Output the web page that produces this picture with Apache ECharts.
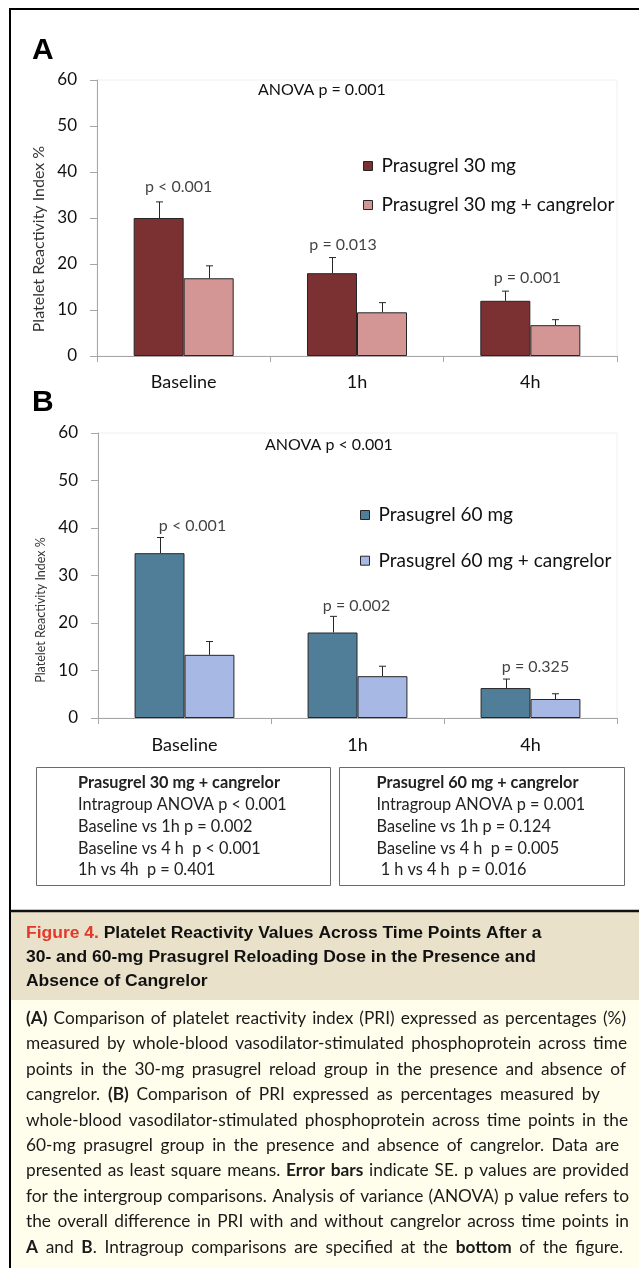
<!DOCTYPE html>
<html>
<head>
<meta charset="utf-8">
<script src="https://cdn.jsdelivr.net/npm/echarts@6/dist/echarts.min.js"></script>
<style>
html,body{margin:0;padding:0;background:#fff;}
#main{width:639px;height:1268px;}
</style>
</head>
<body>
<div id="main"></div>
<script>
// ---------------- DATA ----------------
const categories = ['Baseline', '1h', '4h'];
const seriesNamesA = ['Prasugrel 30 mg', 'Prasugrel 30 mg + cangrelor'];
const seriesNamesB = ['Prasugrel 60 mg', 'Prasugrel 60 mg + cangrelor'];
const prasugrel30 = [30.0, 18.0, 12.0];
const prasugrel30Err = [3.5, 3.4, 2.1];
const prasugrel30Cang = [16.9, 9.5, 6.7];
const prasugrel30CangErr = [2.7, 2.1, 1.2];
const prasugrel60 = [34.7, 18.0, 6.3];
const prasugrel60Err = [3.3, 3.4, 1.9];
const prasugrel60Cang = [13.3, 8.8, 4.0];
const prasugrel60CangErr = [2.8, 2.1, 1.1];
const pValuesA = ['p < 0.001', 'p = 0.013', 'p = 0.001'];
const pValuesB = ['p < 0.001', 'p = 0.002', 'p = 0.325'];
const anovaA = 'ANOVA p = 0.001';
const anovaB = 'ANOVA p < 0.001';
const yAxisName = 'Platelet Reactivity Index %';
const yMin = 0, yMax = 60, yInterval = 10;
const boxLeftLines = ['Prasugrel 30 mg + cangrelor', 'Intragroup ANOVA p < 0.001', 'Baseline vs 1h p = 0.002', 'Baseline vs 4 h  p < 0.001', '1h vs 4h  p = 0.401'];
const boxRightLines = ['Prasugrel 60 mg + cangrelor', 'Intragroup ANOVA p = 0.001', 'Baseline vs 1h p = 0.124', 'Baseline vs 4 h  p = 0.005', ' 1 h vs 4 h  p = 0.016'];
const captionTitleLines = ['{r|Figure 4.} Platelet Reactivity Values Across Time Points After a', '30- and 60-mg Prasugrel Reloading Dose in the Presence and', 'Absence of Cangrelor'];
const captionBodyLines = [
  '**(A)** Comparison of platelet reactivity index (PRI) expressed as percentages (%)',
  'measured by whole-blood vasodilator-stimulated phosphoprotein across time',
  'points in the 30-mg prasugrel reload group in the presence and absence of',
  'cangrelor. **(B)** Comparison of PRI expressed as percentages measured by',
  'whole-blood vasodilator-stimulated phosphoprotein across time points in the',
  '60-mg prasugrel group in the presence and absence of cangrelor. Data are',
  'presented as least square means. **Error bars** indicate SE. p values are provided',
  'for the intergroup comparisons. Analysis of variance (ANOVA) p value refers to',
  'the overall difference in PRI with and without cangrelor across time points in',
  '**A** and **B**. Intragroup comparisons are specified at the **bottom** of the figure.'
];

// ---------------- STYLE / LAYOUT ----------------
const FONT = 'Lato';
const colA1 = '#7b3032', colA2 = '#d49694', colB1 = '#507e99', colB2 = '#a7b8e4';
const BAR_GAP_CAT = 0.423;
const bodyLineEnds = [626, 627, 626, 600, 628, 619, 629, 629, 629, 623];
const titleLineEnds = [547, 536, 202];
const pOffA = [[-5, -15], [-14, -13], [-3, -13]];
const pOffB = [[8, -12], [-1, -11], [5, -12]];

const canvas = document.createElement('canvas');
const ctx = canvas.getContext('2d');
function measure(t, size, weight, family) {
  ctx.font = weight + ' ' + size + 'px ' + family;
  return ctx.measureText(t).width;
}

function errSeries(means, errs, side, xi) {
  return {
    type: 'custom', xAxisIndex: xi, yAxisIndex: xi, z: 5, silent: true,
    data: means.map((m, i) => [i, m, errs[i]]),
    encode: { x: 0, y: 1 },
    renderItem: function (params, api) {
      const x = api.value(0), m = api.value(1), e = api.value(2);
      const base = api.coord([x, m]);
      const top = api.coord([x, m + e]);
      const band = api.size([1, 0])[0];
      const bw = band * (1 - BAR_GAP_CAT) / 2;
      const cx = Math.round(base[0] + side * bw / 2) + 0.5;
      const st = { stroke: '#262626', lineWidth: 1 };
      return { type: 'group', children: [
        { type: 'line', shape: { x1: cx, y1: base[1], x2: cx, y2: top[1] }, style: st },
        { type: 'line', shape: { x1: cx - 3.5, y1: top[1], x2: cx + 3.5, y2: top[1] }, style: st }
      ]};
    }
  };
}
function pSeries(means, errs, labels, offs, xi) {
  return {
    type: 'scatter', xAxisIndex: xi, yAxisIndex: xi, symbolSize: 1, silent: true, z: 6,
    itemStyle: { color: 'transparent' },
    data: means.map((m, i) => ({ value: [i, m + errs[i]], label: { offset: offs[i] } })),
    label: { show: true, position: 'inside', formatter: p => labels[p.dataIndex], fontSize: 16, color: '#111', fontFamily: FONT }
  };
}
function barSeries(name, data, color, xi) {
  return {
    type: 'bar', name: name, xAxisIndex: xi, yAxisIndex: xi, data: data,
    barGap: '0%', barCategoryGap: (BAR_GAP_CAT * 100) + '%',
    itemStyle: { color: color, borderColor: '#262626', borderWidth: 1 }
  };
}
function xAxisCfg(gi, margin) {
  return {
    type: 'category', gridIndex: gi, data: categories,
    axisLine: { lineStyle: { color: '#a6a6a6', width: 1 } },
    axisTick: { show: true, length: 6, lineStyle: { color: '#a6a6a6' } },
    axisLabel: { fontSize: 18, color: '#111', margin: margin, fontFamily: FONT }
  };
}
function yAxisCfg(gi, nameSize, pad) {
  return {
    type: 'value', gridIndex: gi, min: yMin, max: yMax, interval: yInterval,
    axisLine: { show: true, lineStyle: { color: '#a6a6a6', width: 1 } },
    axisTick: { show: true, length: 7, lineStyle: { color: '#a6a6a6' } },
    splitLine: { show: false },
    axisLabel: { fontSize: 17, color: '#111', margin: 20, fontFamily: FONT },
    name: yAxisName, nameLocation: 'middle', nameGap: 40,
    nameTextStyle: { fontSize: nameSize, color: '#333', fontFamily: FONT, padding: pad }
  };
}
function legendCfg(names, left, top, gap) {
  return {
    data: names, orient: 'vertical', left: left, top: top, padding: 0,
    itemWidth: 9, itemHeight: 9, itemGap: gap, icon: 'rect', selectedMode: false,
    itemStyle: { borderColor: '#262626', borderWidth: 1 },
    textStyle: { fontSize: 19, lineHeight: 20, color: '#111', fontFamily: FONT, padding: [0, 0, 0, 4] }
  };
}

// ---------------- GRAPHICS (frame, boxes, caption) ----------------
const graphics = [];
graphics.push({ type: 'rect', shape: { x: 11, y: 912, width: 628, height: 88 }, style: { fill: '#e9e1c9' }, z: 0 });
graphics.push({ type: 'rect', shape: { x: 11, y: 1000, width: 628, height: 268 }, style: { fill: '#fffdec' }, z: 0 });
graphics.push({ type: 'line', shape: { x1: 10, y1: 9, x2: 639, y2: 9 }, style: { stroke: '#000', lineWidth: 2 }, z: 2 });
graphics.push({ type: 'line', shape: { x1: 10, y1: 8, x2: 10, y2: 1268 }, style: { stroke: '#000', lineWidth: 2 }, z: 2 });
graphics.push({ type: 'line', shape: { x1: 10, y1: 911, x2: 639, y2: 911 }, style: { stroke: '#111', lineWidth: 2.5 }, z: 2 });
graphics.push({ type: 'rect', shape: { x: 36.5, y: 767.5, width: 294, height: 118 }, style: { fill: 'none', stroke: '#6b6b6b', lineWidth: 1 }, z: 2 });
graphics.push({ type: 'rect', shape: { x: 339.5, y: 767.5, width: 285, height: 118 }, style: { fill: 'none', stroke: '#6b6b6b', lineWidth: 1 }, z: 2 });
function boxText(lines, x) {
  lines.forEach((t, i) => {
    graphics.push({ type: 'text', z: 3, x: x, y: 783 + i * 21.8, style: {
      text: t, fill: '#222', fontSize: 16.3, fontFamily: FONT, fontWeight: i === 0 ? 'bold' : 'normal',
      align: 'left', verticalAlign: 'middle' } });
  });
}
boxText(boxLeftLines, 78);
boxText(boxRightLines, 376.5);

// caption title (condensed bold)
const TSIZE = 16;
let natSum = 0, tgtSum = 0;
captionTitleLines.forEach((t, i) => {
  natSum += measure(t.replace('{r|', '').replace('}', ''), TSIZE, 'bold', 'Liberation Sans');
  tgtSum += titleLineEnds[i] - 26;
});
const tScale = tgtSum / natSum;
captionTitleLines.forEach((t, i) => {
  graphics.push({ type: 'text', z: 3, x: 26, y: 933.5 + i * 23.8, scaleX: tScale, style: {
    text: t, fill: '#111', fontSize: TSIZE, fontFamily: 'Liberation Sans', fontWeight: 'bold',
    align: 'left', verticalAlign: 'middle',
    rich: { r: { fill: '#e2392b', fontSize: TSIZE, fontFamily: 'Liberation Sans', fontWeight: 'bold' } } } });
});

// caption body, justified word by word
const BSIZE = 17.3;
captionBodyLines.forEach((line, li) => {
  const words = [];
  let bold = false, cur = [], seg = '';
  const pushSeg = () => { if (seg) { cur.push({ t: seg, b: bold }); seg = ''; } };
  for (let k = 0; k < line.length; k++) {
    if (line[k] === '*' && line[k + 1] === '*') { pushSeg(); bold = !bold; k++; continue; }
    if (line[k] === ' ') { pushSeg(); if (cur.length) words.push(cur); cur = []; continue; }
    seg += line[k];
  }
  pushSeg(); if (cur.length) words.push(cur);
  const ww = words.map(w => w.reduce((s, g) => s + measure(g.t, BSIZE, g.b ? 'bold' : 'normal', FONT), 0));
  const total = ww.reduce((a, b) => a + b, 0);
  const gap = Math.max(2.5, (bodyLineEnds[li] - 26 - total) / (words.length - 1));
  let x = 26;
  const y = 1018.5 + li * 25.4;
  words.forEach((w, wi) => {
    let sx = x;
    w.forEach(g => {
      graphics.push({ type: 'text', z: 3, x: sx, y: y, style: {
        text: g.t, fill: '#1a1a1a', fontSize: BSIZE, fontFamily: FONT, fontWeight: g.b ? 'bold' : 'normal',
        align: 'left', verticalAlign: 'middle' } });
      sx += measure(g.t, BSIZE, g.b ? 'bold' : 'normal', FONT);
    });
    x += ww[wi] + gap;
  });
});

// ---------------- CHART ----------------
const chart = echarts.init(document.getElementById('main'), null, { renderer: 'canvas' });
const option = {
  animation: false,
  backgroundColor: '#ffffff',
  textStyle: { fontFamily: FONT },
  title: [
    { text: 'A', left: 32, top: 36, padding: 0, textStyle: { fontFamily: 'Liberation Sans', fontWeight: 'bold', fontSize: 30, lineHeight: 30, color: '#000' } },
    { text: 'B', left: 32, top: 388, padding: 0, textStyle: { fontFamily: 'Liberation Sans', fontWeight: 'bold', fontSize: 30, lineHeight: 30, color: '#000' } },
    { text: anovaA, left: 258, top: 82, padding: 0, textStyle: { fontFamily: FONT, fontWeight: 'normal', fontSize: 16, lineHeight: 16, color: '#111' } },
    { text: anovaB, left: 265, top: 437, padding: 0, textStyle: { fontFamily: FONT, fontWeight: 'normal', fontSize: 16, lineHeight: 16, color: '#111' } }
  ],
  legend: [legendCfg(seriesNamesA, 363, 156, 19), legendCfg(seriesNamesB, 360, 505, 25.7)],
  grid: [
    { left: 97, top: 80, width: 520, height: 276, show: true, borderColor: '#f0f0f0', borderWidth: 1, backgroundColor: 'transparent' },
    { left: 98, top: 433, width: 519, height: 285, show: true, borderColor: '#f0f0f0', borderWidth: 1, backgroundColor: 'transparent' }
  ],
  xAxis: [xAxisCfg(0, 17), xAxisCfg(1, 18)],
  yAxis: [yAxisCfg(0, 16, [0, 42, 0, 0]), yAxisCfg(1, 12.5, [0, 69, 0, 0])],
  series: [
    barSeries(seriesNamesA[0], prasugrel30, colA1, 0),
    barSeries(seriesNamesA[1], prasugrel30Cang, colA2, 0),
    errSeries(prasugrel30, prasugrel30Err, -1, 0),
    errSeries(prasugrel30Cang, prasugrel30CangErr, 1, 0),
    pSeries(prasugrel30, prasugrel30Err, pValuesA, pOffA, 0),
    barSeries(seriesNamesB[0], prasugrel60, colB1, 1),
    barSeries(seriesNamesB[1], prasugrel60Cang, colB2, 1),
    errSeries(prasugrel60, prasugrel60Err, -1, 1),
    errSeries(prasugrel60Cang, prasugrel60CangErr, 1, 1),
    pSeries(prasugrel60, prasugrel60Err, pValuesB, pOffB, 1)
  ],
  graphic: { elements: graphics }
};
chart.setOption(option);
</script>
</body>
</html>
